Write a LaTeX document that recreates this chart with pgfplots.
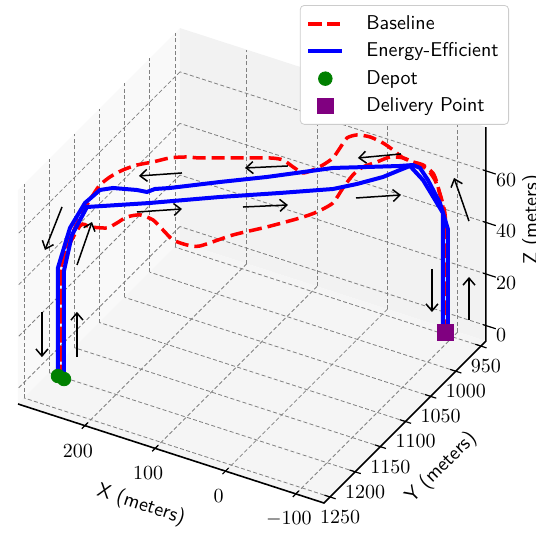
\documentclass[border=0pt]{standalone}
\usepackage{pgfplots}
\pgfplotsset{compat=1.18}
\usetikzlibrary{calc,arrows.meta}
\definecolor{mplgreen}{RGB}{0,128,0}
\definecolor{mplpurple}{RGB}{128,0,128}
\definecolor{paneX}{gray}{0.975}
\definecolor{paneY}{gray}{0.95}
\definecolor{paneZ}{gray}{0.9625}
\begin{document}
\begin{tikzpicture}
\begin{axis}[
  set layers,
  x={(-0.3517pt,0.1138pt)}, y={(-0.2515pt,-0.2515pt)}, z={(0pt,1.289pt)},
  xmin=-140, xmax=295, ymin=940, ymax=1262, zmin=-6, zmax=77,
  xtick={-100,0,100,200}, ytick={950,1000,...,1250}, ztick={0,20,40,60},
  /pgf/number format/1000 sep={},
  grid=major,
  major grid style={draw=gray, line width=0.4pt, dash pattern=on 2pt off 1.2pt},
  axis line style={draw=none},
  tick style={draw=none},
  zticklabel pos=right,
  xticklabel style={anchor=center, xshift=-3.5pt, yshift=-12.5pt},
  yticklabel style={anchor=west, xshift=-8.5pt, yshift=-10pt},
  zticklabel style={anchor=west, xshift=1.5pt, yshift=-4.5pt},
  clip=false,
  xlabel={X (meters)}, ylabel={Y (meters)}, zlabel={Z (meters)},
  xlabel style={font=\sffamily, at={(axis cs:54.4,1353.9,-6)}, anchor=center, rotate=-18},
  ylabel style={font=\sffamily, at={(axis cs:-228,1152,-6)}, anchor=center, rotate=45},
  zlabel style={font=\sffamily, at={(axis cs:-140,848.4,23.1)}, anchor=center},
  legend style={at={(axis cs:-33.7,745.5,77)}, anchor=north east, font=\sffamily,
    draw=gray!40, rounded corners=2pt, fill=white, cells={anchor=west},
    row sep=1.2pt, column sep=9pt, inner xsep=3pt, inner ysep=3pt},
]
% panes
\addplot3[on layer=axis background, draw=none, fill=paneX, forget plot] coordinates {(295,940,-6) (295,1262,-6) (295,1262,77) (295,940,77) (295,940,-6)};
\addplot3[on layer=axis background, draw=none, fill=paneY, forget plot] coordinates {(-140,940,-6) (295,940,-6) (295,940,77) (-140,940,77) (-140,940,-6)};
\addplot3[on layer=axis background, draw=none, fill=paneZ, forget plot] coordinates {(-140,940,-6) (295,940,-6) (295,1262,-6) (-140,1262,-6) (-140,940,-6)};
% axis lines
\addplot3[on layer=axis lines, black, line width=0.8pt, forget plot] coordinates {(295,1262,-6) (-140,1262,-6) (-140,940,-6) (-140,940,77)};
% tick marks
\addplot3[on layer=axis lines, forget plot, black, line width=0.6pt, -,
  quiver={u=\thisrow{u}, v=\thisrow{v}, w=\thisrow{w}}] table {
x y z u v w
-100 1256 -6 0 12 0
0 1256 -6 0 12 0
100 1256 -6 0 12 0
200 1256 -6 0 12 0
-148 950 -6 16 0 0
-148 1000 -6 16 0 0
-148 1050 -6 16 0 0
-148 1100 -6 16 0 0
-148 1150 -6 16 0 0
-148 1200 -6 16 0 0
-148 1250 -6 16 0 0
-136 940 0 -18 0 0
-136 940 20 -18 0 0
-136 940 40 -18 0 0
-136 940 60 -18 0 0
};

% Baseline outbound
\addplot3[red, line width=1.75pt, dash pattern=on 6.5pt off 3pt, smooth, tension=0.4] coordinates {
(260.6,1224.6,0) (260.6,1224.6,42) (236.9,1220,60) (225.1,1216.7,60) (205.8,1209.9,60)
(200.4,1197.6,60) (196.1,1183.7,60) (184.3,1174.3,60) (164.9,1175.5,60) (143.5,1185.7,60)
(122,1195.8,60) (101.6,1196.6,60) (86.5,1191.8,60) (62.9,1159.2,60) (35,1130.6,60)
(9.2,1101.2,60) (-2.6,1083.9,60) (-10.1,1062.6,60) (-4.8,1035.2,60) (-1.5,1010.7,60)
(-3.7,993.8,60) (-13.4,979.5,60) (-22,965.8,60) (-37,960.8,60) (-55.3,962.6,60)
(-74.6,965.8,60) (-83.9,963,56) (-92.1,962.4,50) (-99.7,965.2,45) (-103.7,969.8,40)
(-103.7,969.8,0)};
\addlegendentry{Baseline}
% Baseline return
\addplot3[red, line width=1.75pt, dash pattern=on 6.5pt off 3pt, smooth, tension=0.4, forget plot] coordinates {
(-103.7,969.8,0) (-103.7,969.8,40) (-93.9,961,46) (-86.6,962.7,55) (-79.8,961.2,58)
(-66,961.6,60) (-52,962,60) (-37,960.8,60) (-17.7,953.7,60) (0.6,948.1,60)
(21,945.3,60) (37.1,948.7,60) (44.6,958,60) (41.4,976.5,60) (38.2,995,60)
(41.4,1010.3,60) (46.8,1022.6,60) (54.3,1032,60) (71.5,1027.8,60) (89.8,1022.2,60)
(105.9,1025.6,60) (143.5,1042.5,60) (181.1,1059.6,60) (196.1,1064.4,60) (213.3,1074.1,60)
(227.2,1088.4,60) (241.2,1100.8,60) (250.9,1115.1,60) (257.3,1131.8,60) (259.5,1148.7,60)
(256.2,1167.2,60) (253,1181.5,60) (262.3,1194.6,52) (260.6,1224.6,42) (260.6,1224.6,0)};
% Energy-efficient outbound
\addplot3[blue, line width=2pt] coordinates {
(255.8,1225.4,0) (255.8,1225.4,42) (255.2,1210.3,53) (244.2,1195.9,62) (180.8,1159.2,62)
(112.1,1116.2,62) (51.9,1081,62) (-0.7,1049.3,62) (-21.1,1030.1,62) (-41.5,1007,62)
(-52.2,988.2,62) (-58.7,977.3,62) (-68.4,965,55) (-97.6,966.1,45) (-101,971,40) (-101,971,0)};
\addlegendentry{Energy-Efficient}
% Energy-efficient return
\addplot3[blue, line width=2pt, forget plot] coordinates {
(-106.4,968.6,0) (-106.4,968.6,40) (-89.1,960.2,47) (-76.4,966.4,56) (-68.8,971.5,61)
(-60.8,974.4,62) (-47.9,982.2,62) (-13.6,999.7,62) (21.9,1017.7,62) (83.1,1063.3,62)
(128.2,1093.7,62) (175.5,1127,62) (190.5,1135.8,62) (195.9,1144.2,62) (208.8,1146.1,62)
(236.7,1154.7,62) (248.5,1164,62) (256.2,1183.1,60) (267.6,1197,52) (265.5,1223.8,42)
(265.5,1223.8,0)};
% Depot
\addplot3[only marks, mark=*, mark size=3.4pt, color=mplgreen] coordinates {(265.5,1223.8,0) (255.8,1225.4,0)};
\addlegendentry{Depot}
% Delivery
\addplot3[only marks, mark=square*, mark size=3.9pt, color=mplpurple] coordinates {(-103.7,969.8,0)};
\addlegendentry{Delivery Point}
% direction arrows
\addplot3[forget plot, black, line width=0.75pt, -{Straight Barb[length=3.5pt,width=6pt]},
  quiver={u=\thisrow{u}, v=\thisrow{v}, w=\thisrow{w}}] table {
x y z u v w
276.6 1200.2 60 13.6 14.9 -15
239.7 1222 45 -5.9 -21.5 13
268.4 1251.6 30 0 0 -17.5
230.9 1234.4 12.5 0 0 17.5
185.1 1179.1 62 -45.1 -26.4 0
76.6 1120.1 62 -46.1 -24.9 0
-35.1 1051.6 62 -45.1 -26.4 0
178.7 1098.6 62 43 25.4 0
72.4 1036.6 62 44 23.9 0
-36.1 963.6 62 41.9 27 0
-134.1 965.5 45 20.8 0.6 15
-104.3 997.4 30 0 0 -16.7
-152.7 991.4 13.3 0 0 16.7
};
\coordinate (pA) at (axis cs:295,1262,-6);
\end{axis}
\pgfresetboundingbox
\path[use as bounding box] ($(pA)+(-9pt,202pt)$) rectangle ($(pA)+(259pt,-65.5pt)$);
\end{tikzpicture}
\end{document}
